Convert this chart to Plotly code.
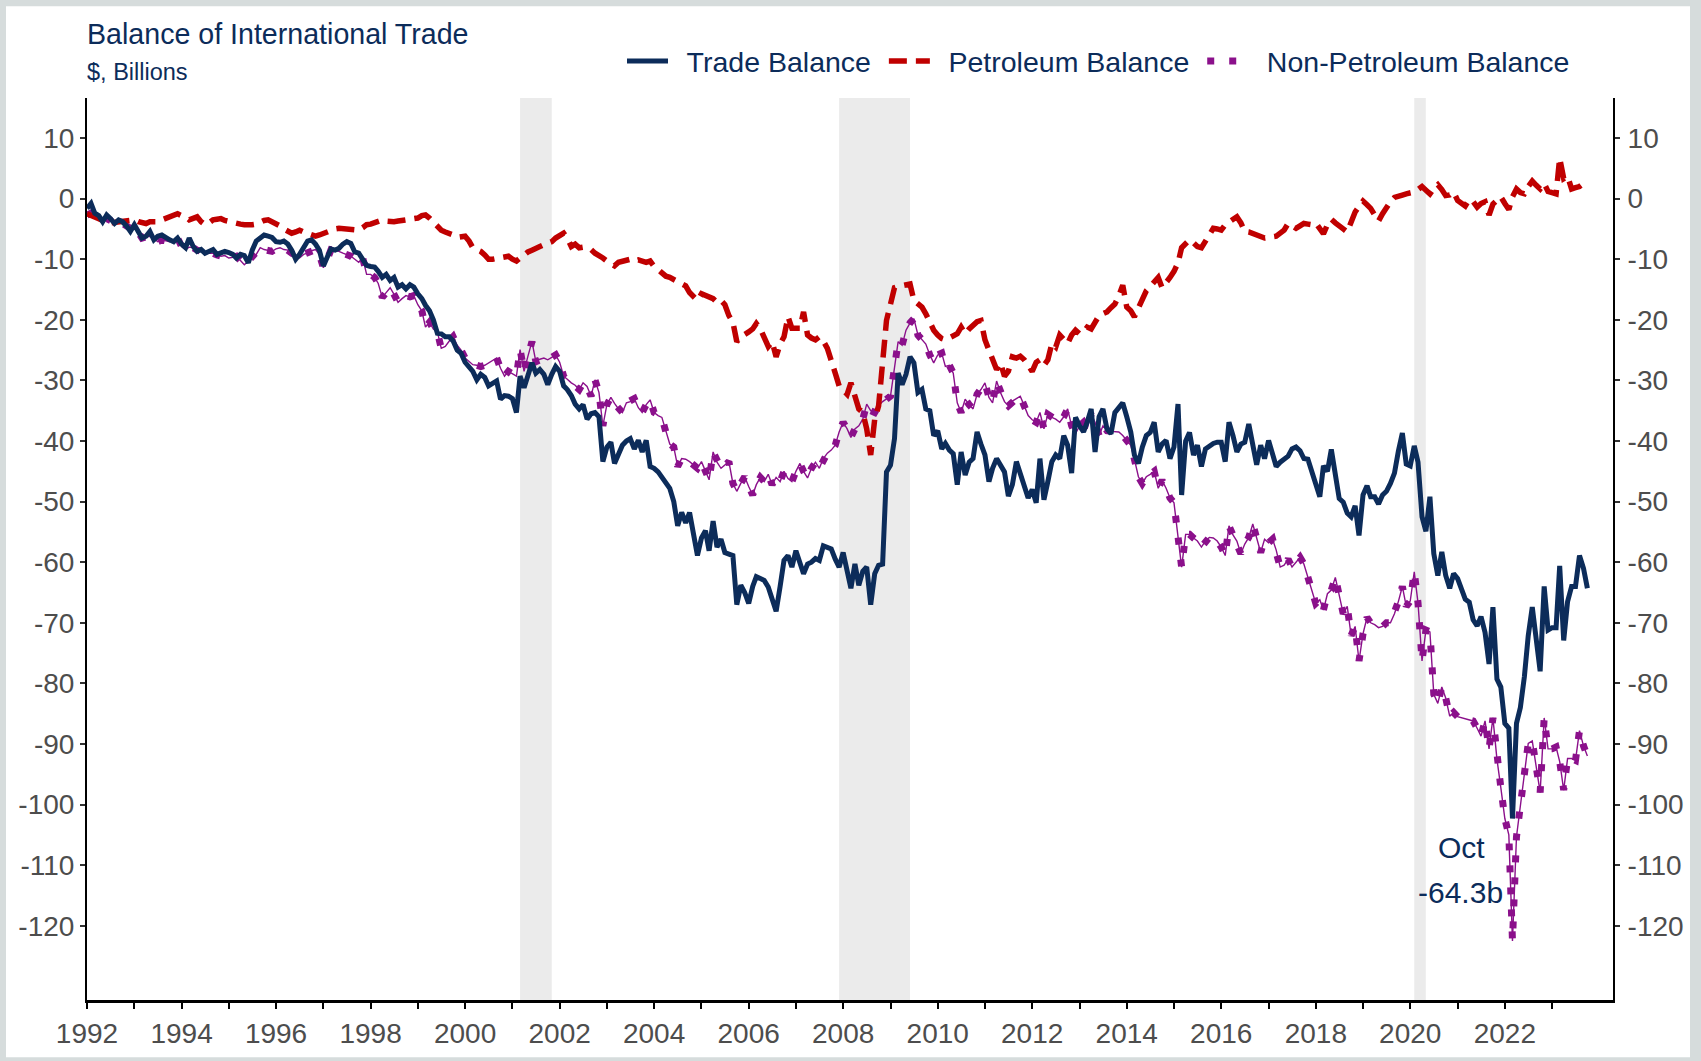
import plotly.graph_objects as go
import pandas as pd

# ---------------- DATA (monthly, $ billions) ----------------
# Trade balance (goods & services)
t1992 = [-1.6, -0.8, -2.4, -2.8, -3.8, -2.7, -3.3, -4.1, -3.5, -3.8, -4.5, -5.4]
t1993 = [-4.3, -5.5, -6.5, -6.2, -5.4, -6.8, -6.2, -6.0, -6.5, -6.8, -7.1, -6.5]
t1994 = [-7.5, -8.1, -6.5, -7.9, -8.7, -8.4, -9.0, -8.6, -8.4, -9.2, -9.0, -8.7]
t1995 = [-8.9, -9.2, -9.8, -9.2, -9.4, -10.6, -8.5, -7.0, -6.5, -6.0, -6.2, -6.4]
t1996 = [-7.1, -7.2, -7.0, -7.5, -8.5, -10.0, -9.2, -8.0, -7.0, -6.8, -7.5, -8.5]
t1997 = [-11.1, -9.6, -8.3, -8.5, -8.2, -7.5, -7.1, -7.4, -8.8, -9.0, -10.2, -11.0]
t1998 = [-11.2, -11.3, -12.0, -13.0, -12.5, -13.5, -13.0, -14.6, -14.2, -14.9, -14.2, -14.6]
t1999 = [-15.7, -16.5, -17.6, -18.5, -20.0, -22.2, -22.3, -22.8, -22.8, -23.5, -25.0, -25.5]
t2000 = [-27.0, -27.7, -28.5, -29.9, -29.0, -29.5, -30.9, -30.5, -30.1, -33.1, -32.5, -32.6]
t2001 = [-33.0, -35.3, -29.3, -31.2, -29.0, -27.1, -28.8, -28.2, -29.0, -30.7, -29.0, -27.7]
t2002 = [-28.5, -30.9, -31.5, -32.5, -33.9, -34.7, -34.0, -36.4, -35.5, -35.3, -36.0, -43.4]
t2003 = [-41.0, -40.2, -43.7, -42.0, -40.7, -40.0, -39.6, -41.3, -39.9, -41.8, -39.9, -44.2]
t2004 = [-44.5, -45.1, -46.0, -47.2, -47.8, -50.0, -54.0, -51.8, -53.5, -51.8, -55.0, -58.9]
t2005 = [-56.0, -54.8, -58.1, -53.2, -57.5, -56.2, -58.4, -58.6, -58.9, -67.0, -63.8, -65.0]
t2006 = [-66.8, -64.0, -62.4, -62.7, -63.0, -64.1, -66.2, -68.1, -64.0, -59.7, -58.9, -60.8]
t2007 = [-58.1, -60.0, -61.9, -60.3, -60.0, -59.4, -59.7, -57.3, -57.5, -57.8, -59.5, -60.8]
t2008 = [-58.4, -61.5, -64.3, -60.3, -63.8, -61.5, -60.8, -67.0, -61.9, -60.5, -60.3, -45.1]
t2009 = [-44.0, -39.6, -28.8, -30.7, -29.0, -26.1, -27.1, -32.0, -31.5, -34.7, -35.0, -39.1]
t2010 = [-38.3, -41.3, -40.4, -41.5, -42.1, -47.2, -41.8, -45.6, -43.5, -42.9, -38.5, -40.5]
t2011 = [-42.3, -46.7, -44.5, -42.9, -44.0, -45.1, -49.1, -47.2, -43.4, -45.5, -47.2, -49.4]
t2012 = [-48.0, -50.2, -42.9, -49.7, -46.7, -43.4, -42.3, -42.9, -39.1, -40.7, -45.3, -36.1]
t2013 = [-37.5, -38.5, -36.9, -34.7, -41.8, -36.0, -34.7, -38.0, -38.8, -35.3, -34.5, -33.7]
t2014 = [-36.0, -38.5, -42.3, -43.7, -41.0, -39.1, -38.6, -36.9, -41.8, -40.5, -39.9, -42.9]
t2015 = [-41.0, -33.9, -48.9, -40.0, -38.6, -42.3, -40.7, -44.2, -41.3, -40.8, -40.4, -40.2]
t2016 = [-40.2, -43.4, -36.9, -39.1, -41.8, -40.5, -40.2, -37.2, -40.2, -43.9, -40.7, -42.9]
t2017 = [-39.9, -42.0, -44.2, -43.5, -42.9, -42.5, -41.3, -41.0, -41.6, -42.9, -43.0, -45.2]
t2018 = [-47.0, -49.2, -44.1, -45.0, -41.4, -45.3, -49.5, -50.1, -51.9, -52.5, -50.7, -55.6]
t2019 = [-48.9, -47.4, -49.2, -49.2, -50.4, -48.9, -48.3, -47.0, -45.3, -41.7, -38.7, -43.8]
t2020 = [-44.1, -40.8, -43.5, -52.5, -54.9, -49.2, -58.6, -62.2, -58.3, -62.2, -64.3, -61.9]
t2021 = [-62.7, -64.5, -66.1, -66.6, -69.5, -70.5, -69.0, -71.6, -76.8, -67.4, -79.3, -80.6]
t2022 = [-86.6, -87.4, -102.3, -86.6, -84.0, -78.9, -72.1, -67.4, -72.1, -78.0, -64.0, -71.2]
t2023 = [-70.8, -70.8, -60.6, -72.9, -66.5, -64.0, -64.0, -58.9, -61.0, -64.3]

# Petroleum balance
p1992 = [-2.5, -2.7, -3.0, -3.3, -3.6, -4.1, -4.0, -3.9, -3.8, -3.8, -3.8, -3.6]
p1993 = [-3.5, -3.8, -4.0, -4.1, -3.8, -3.9, -3.8, -3.5, -3.2, -3.0, -2.6, -2.5]
p1994 = [-2.8, -3.0, -3.5, -3.2, -3.0, -3.8, -4.3, -4.0, -3.5, -3.4, -3.3, -3.6]
p1995 = [-3.8, -4.0, -4.0, -4.2, -4.3, -4.4, -4.3, -4.2, -3.8, -3.6, -3.5, -3.8]
p1996 = [-4.2, -4.5, -5.0, -5.3, -5.7, -5.5, -5.2, -5.5, -5.8, -6.0, -6.2, -6.0]
p1997 = [-5.7, -5.5, -5.2, -5.0, -4.9, -5.0, -4.9, -5.0, -5.2, -5.2, -4.8, -4.3]
p1998 = [-4.2, -4.0, -3.6, -3.5, -3.7, -3.8, -3.8, -3.7, -3.6, -3.7, -3.6, -3.5]
p1999 = [-3.2, -2.8, -2.7, -3.2, -3.8, -4.6, -5.2, -5.5, -5.7, -6.0, -6.4, -6.3]
p2000 = [-6.2, -7.0, -8.1, -8.4, -8.7, -9.3, -10.0, -10.0, -9.9, -9.8, -9.6, -9.5]
p2001 = [-10.0, -10.3, -9.8, -9.2, -8.8, -8.5, -8.1, -7.9, -7.6, -7.3, -7.1, -6.5]
p2002 = [-6.0, -5.7, -6.5, -7.9, -7.5, -8.1, -8.0, -8.2, -8.4, -9.0, -9.3, -9.8]
p2003 = [-10.3, -10.8, -11.1, -10.5, -10.3, -10.2, -10.0, -10.3, -10.1, -10.3, -10.5, -10.3]
p2004 = [-11.2, -11.7, -12.3, -12.8, -13.0, -13.4, -13.6, -14.0, -14.4, -15.5, -16.3, -16.8]
p2005 = [-15.7, -16.0, -16.3, -16.5, -17.1, -16.8, -17.5, -19.3, -20.4, -23.6, -22.8, -22.5]
p2006 = [-22.0, -21.5, -20.6, -21.5, -22.8, -24.4, -23.6, -26.1, -24.0, -22.8, -19.5, -21.4]
p2007 = [-21.4, -21.4, -18.7, -22.5, -23.0, -23.3, -22.8, -23.5, -24.7, -27.1, -28.8, -30.9]
p2008 = [-31.5, -32.3, -30.4, -33.0, -34.7, -35.3, -38.0, -42.3, -36.4, -34.2, -27.7, -20.1]
p2009 = [-17.4, -14.7, -14.5, -14.4, -14.2, -14.1, -16.8, -17.5, -17.9, -19.0, -20.4, -21.7]
p2010 = [-22.5, -23.1, -23.3, -23.0, -22.8, -22.3, -21.2, -22.3, -21.5, -20.9, -20.3, -20.1]
p2011 = [-23.3, -25.0, -26.6, -28.2, -27.1, -29.3, -28.5, -26.1, -26.3, -26.0, -26.6, -27.5]
p2012 = [-28.5, -27.0, -26.6, -27.5, -26.6, -23.9, -24.5, -22.5, -23.3, -23.9, -22.5, -21.7]
p2013 = [-22.3, -22.0, -21.2, -21.5, -20.4, -19.3, -19.0, -18.7, -18.0, -17.4, -16.0, -14.3]
p2014 = [-17.9, -18.5, -19.5, -18.0, -16.8, -15.2, -14.5, -13.6, -13.0, -14.7, -14.0, -13.0]
p2015 = [-12.0, -10.6, -8.1, -7.5, -6.8, -7.3, -7.9, -8.1, -7.0, -5.7, -4.9, -5.0]
p2016 = [-5.2, -4.3, -3.8, -3.3, -3.0, -4.0, -5.4, -5.5, -5.7, -6.0, -6.2, -6.5]
p2017 = [-6.4, -6.3, -6.2, -5.7, -5.2, -4.1, -4.5, -4.9, -4.5, -4.1, -4.2, -4.3]
p2018 = [-4.0, -4.9, -5.8, -4.3, -3.4, -4.0, -4.6, -5.0, -5.5, -3.8, -2.2, -1.3]
p2019 = [-0.4, -1.0, -1.6, -2.7, -3.7, -2.5, -1.3, -0.5, 0.2, 0.5, 0.6, 0.8]
p2020 = [0.9, 1.1, 1.5, 2.0, 1.4, 0.8, 1.7, 2.3, 1.5, 0.5, 0.6, 1.1]
p2021 = [-0.3, -0.8, -1.2, -0.1, -0.5, -1.4, -0.8, -0.5, -2.7, -0.9, -0.3, 0.3]
p2022 = [-0.8, -1.8, 0.3, 1.6, 1.0, 0.8, 2.0, 2.9, 2.2, 1.6, 2.5, 1.2]
p2023 = [1.0, 0.8, 6.7, 3.3, 3.7, 1.6, 1.8, 2.0, 2.5, 2.9]

# Non-petroleum balance
n1992 = [-2.7, -2.4, -2.9, -3.3, -3.8, -3.3, -3.6, -4.3, -4.0, -4.1, -4.5, -4.9]
n1993 = [-4.6, -5.5, -6.5, -6.3, -6.2, -6.6, -7.1, -6.8, -7.0, -7.1, -6.8, -6.5]
n1994 = [-7.9, -8.4, -8.0, -8.1, -8.5, -8.7, -9.2, -9.0, -9.0, -9.3, -9.5, -9.4]
n1995 = [-9.8, -9.7, -9.5, -10.2, -10.9, -10.3, -9.6, -9.2, -8.1, -8.4, -8.5, -8.7]
n1996 = [-8.3, -8.1, -8.4, -8.5, -9.0, -9.5, -9.8, -9.2, -9.0, -8.6, -8.4, -9.2]
n1997 = [-11.4, -10.0, -8.4, -8.5, -8.7, -9.0, -9.2, -9.5, -10.0, -10.5, -9.8, -12.5]
n1998 = [-12.5, -13.0, -14.0, -16.3, -15.5, -14.7, -15.8, -17.1, -16.5, -16.0, -16.2, -16.0]
n1999 = [-17.5, -18.5, -21.2, -20.4, -21.5, -22.0, -24.7, -24.4, -23.5, -22.8, -24.2, -25.0]
n2000 = [-26.3, -26.8, -27.4, -27.5, -27.7, -27.5, -27.1, -26.8, -26.3, -28.0, -29.3, -28.5]
n2001 = [-28.9, -29.3, -24.9, -28.5, -26.0, -23.6, -26.9, -26.5, -26.3, -26.6, -26.2, -25.8]
n2002 = [-27.0, -29.3, -29.8, -30.4, -30.8, -31.5, -30.4, -31.0, -32.6, -29.9, -32.0, -37.5]
n2003 = [-34.0, -32.8, -33.8, -34.7, -35.3, -33.7, -33.5, -33.0, -34.5, -35.3, -34.0, -33.2]
n2004 = [-35.3, -35.8, -36.1, -38.5, -40.5, -41.0, -44.2, -42.9, -43.0, -43.4, -44.0, -44.5]
n2005 = [-43.4, -45.0, -46.4, -41.8, -43.5, -44.5, -44.0, -43.4, -47.0, -48.3, -47.0, -45.9]
n2006 = [-47.5, -48.9, -47.2, -46.0, -46.7, -45.5, -47.2, -46.0, -46.7, -45.0, -46.2, -46.7]
n2007 = [-45.0, -43.7, -45.0, -46.1, -44.5, -43.5, -44.5, -42.9, -42.0, -41.5, -40.7, -38.5]
n2008 = [-36.9, -38.0, -39.4, -38.0, -37.5, -36.4, -33.9, -35.0, -35.3, -34.2, -33.5, -33.1]
n2009 = [-32.6, -27.9, -23.6, -24.2, -21.7, -20.5, -19.8, -22.5, -23.3, -24.0, -25.8, -27.1]
n2010 = [-25.8, -25.5, -27.7, -27.5, -28.8, -33.7, -35.3, -33.1, -34.0, -34.7, -32.3, -31.5]
n2011 = [-30.4, -32.8, -33.7, -30.1, -32.0, -33.5, -34.2, -33.4, -33.0, -32.6, -34.2, -35.8]
n2012 = [-36.5, -36.9, -35.3, -38.0, -35.6, -36.1, -36.4, -36.9, -36.0, -34.7, -37.5, -38.8]
n2013 = [-37.5, -36.9, -38.0, -35.6, -36.9, -39.1, -37.5, -38.3, -38.4, -38.5, -38.5, -39.1]
n2014 = [-40.0, -40.7, -43.0, -45.9, -47.0, -45.9, -45.5, -45.0, -47.8, -46.5, -47.8, -49.4]
n2015 = [-50.2, -55.4, -60.8, -55.4, -55.4, -56.0, -56.5, -57.5, -56.5, -55.9, -56.0, -56.5]
n2016 = [-57.5, -58.9, -54.0, -55.5, -56.5, -58.6, -57.0, -55.9, -53.7, -56.0, -58.4, -56.2]
n2017 = [-56.8, -56.2, -58.0, -60.8, -60.5, -59.5, -60.8, -60.0, -59.2, -60.3, -62.5, -64.9]
n2018 = [-66.8, -66.2, -67.9, -65.2, -64.6, -62.5, -65.2, -68.5, -67.3, -72.1, -70.6, -76.3]
n2019 = [-71.8, -69.1, -70.0, -70.3, -70.8, -70.6, -70.0, -70.0, -68.5, -66.5, -64.0, -67.3]
n2020 = [-66.4, -61.6, -66.7, -76.3, -71.2, -71.5, -81.8, -83.3, -80.6, -82.4, -85.4, -84.8]
n2021 = [-85.5, -85.7, -85.9, -86.0, -86.2, -87.4, -88.7, -86.2, -90.8, -85.7, -92.5, -97.2]
n2022 = [-102.3, -105.0, -122.5, -105.3, -100.2, -95.1, -89.9, -89.5, -93.5, -98.0, -85.7, -90.8]
n2023 = [-90.8, -90.5, -92.9, -97.6, -92.4, -92.4, -92.7, -87.8, -90.3, -92.0]

years = list(range(1992, 2024))
trade = sum([globals()[f"t{y}"] for y in years], [])
petroleum = sum([globals()[f"p{y}"] for y in years], [])
nonpet = sum([globals()[f"n{y}"] for y in years], [])
dates = pd.date_range("1992-01-01", periods=len(trade), freq="MS")

recessions = [("2001-03-01", "2001-11-01"), ("2007-12-01", "2009-06-01"), ("2020-02-01", "2020-04-30")]
ytick_vals = list(range(-120, 11, 10))
xtick_years = list(range(1992, 2024))

# ---------------- LAYOUT HELPERS ----------------
W, H = 1701, 1061
L, R, T, B = 87, 88, 98, 49
PW, PH = W - L - R, H - T - B


def px_x(p):
    return (p - L) / PW


def px_y(p):
    return (H - B - p) / PH


NAVY = "#0c2c5a"
RED = "#c00000"
PURPLE = "#8b108b"
GRAY_TXT = "#4d4d4d"
FONT = "Liberation Sans, Arial, Helvetica, sans-serif"
NB = "\u00a0"
GAP = "\u00a0\u2009"

fig = go.Figure()
fig.add_trace(go.Scatter(x=dates, y=nonpet, mode="lines", line=dict(color=PURPLE, width=1.4),
                         showlegend=False, hoverinfo="skip"))
fig.add_trace(go.Scatter(x=dates, y=nonpet, mode="lines", name=GAP + "Non-Petroleum Balance",
                         line=dict(color=PURPLE, width=7, dash="7px,15px"), legendrank=3))
fig.add_trace(go.Scatter(x=dates, y=petroleum, mode="lines", name=GAP + "Petroleum Balance" + NB,
                         line=dict(color=RED, width=5.5, dash="18px,9px"), legendrank=2))
fig.add_trace(go.Scatter(x=dates, y=trade, mode="lines", name=GAP + "Trade Balance" + NB,
                         line=dict(color=NAVY, width=5), legendrank=1))
fig.add_trace(go.Scatter(x=[dates[0]], y=[trade[0]], yaxis="y2", mode="lines",
                         line=dict(width=0, color="rgba(0,0,0,0)"), showlegend=False, hoverinfo="skip"))

yrange = [-132.25, 16.61]
yax = dict(range=yrange, tickvals=ytick_vals, ticktext=[str(v) for v in ytick_vals],
           ticks="outside", ticklen=5, tickwidth=1.5, tickcolor="#333333",
           showline=True, linecolor="black", linewidth=2, showgrid=False, zeroline=False,
           tickfont=dict(size=28, color=GRAY_TXT, family=FONT))

shapes = [dict(type="rect", xref="paper", yref="paper", x0=px_x(6), x1=px_x(1690),
               y0=px_y(1070), y1=px_y(5), fillcolor="white", line=dict(width=0), layer="below")]
for a, b in recessions:
    shapes.append(dict(type="rect", xref="x", yref="paper", x0=a, x1=b, y0=0, y1=1,
                       fillcolor="#ebebeb", line=dict(width=0), layer="below"))

annotations = [
    dict(text="Balance of International Trade", xref="paper", yref="paper", x=px_x(85), y=px_y(33),
         xanchor="left", yanchor="middle", showarrow=False, font=dict(size=28.6, color=NAVY, family=FONT)),
    dict(text="$, Billions", xref="paper", yref="paper", x=px_x(85), y=px_y(72),
         xanchor="left", yanchor="middle", showarrow=False, font=dict(size=23.5, color=NAVY, family=FONT)),
    dict(text="Oct", xref="paper", yref="paper", x=px_x(1461), y=px_y(857),
         xanchor="center", yanchor="middle", showarrow=False, font=dict(size=30, color=NAVY, family=FONT)),
    dict(text=f"{trade[-1]:.1f}b", xref="paper", yref="paper", x=px_x(1460), y=px_y(903),
         xanchor="center", yanchor="middle", showarrow=False, font=dict(size=30, color=NAVY, family=FONT)),
]

fig.update_layout(
    width=W, height=H, autosize=False,
    margin=dict(l=L, r=R, t=T, b=B, pad=0),
    paper_bgcolor="#d6dcdc", plot_bgcolor="white",
    font=dict(family=FONT, color=NAVY),
    xaxis=dict(type="date", range=["1992-01-01", "2024-04-16"],
               tickvals=[f"{y}-01-01" for y in xtick_years],
               ticktext=[str(y) if y % 2 == 0 else "" for y in xtick_years],
               ticks="outside", ticklen=6, tickwidth=1.5, tickcolor="black",
               showline=True, linecolor="black", linewidth=3, showgrid=False, zeroline=False,
               tickfont=dict(size=28, color=GRAY_TXT, family=FONT)),
    yaxis=dict(yax, ticklabelstandoff=0),
    yaxis2=dict(yax, overlaying="y", side="right", ticklabelstandoff=2),
    legend=dict(orientation="h", xanchor="right", x=px_x(1575), yanchor="middle", y=px_y(61),
                itemwidth=41, font=dict(size=28.5, color=NAVY, family=FONT), bgcolor="rgba(0,0,0,0)"),
    shapes=shapes,
    annotations=annotations,
    showlegend=True,
)

fig.write_html("out.html", config={"displayModeBar": False},
               post_script="document.body.style.margin='0';document.body.style.background='#d6dcdc';")
